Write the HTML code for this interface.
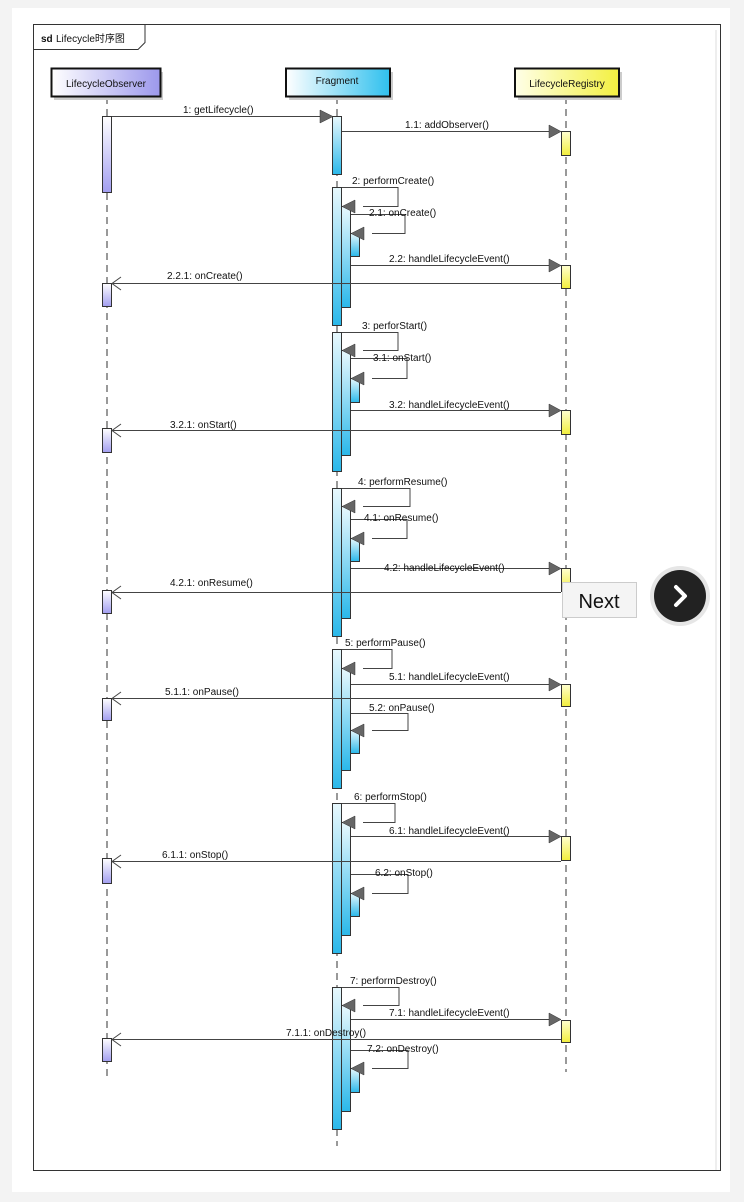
<!DOCTYPE html>
<html><head><meta charset="utf-8"><style>
body{margin:0;background:#f3f3f3;width:744px;height:1202px;overflow:hidden}
svg{display:block}
text{font-family:"Liberation Sans","Noto Sans CJK SC",sans-serif;font-size:10px;fill:#111}
</style></head><body>
<svg width="744" height="1202" viewBox="0 0 744 1202">
<defs>
<linearGradient id="gp" x1="0" y1="0" x2="1" y2="0"><stop offset="0" stop-color="#fff"/><stop offset="1" stop-color="#9c98ec"/></linearGradient>
<linearGradient id="gc" x1="0" y1="0" x2="1" y2="0"><stop offset="0" stop-color="#fff"/><stop offset="1" stop-color="#2fc0ee"/></linearGradient>
<linearGradient id="gy" x1="0" y1="0" x2="1" y2="0"><stop offset="0" stop-color="#ffffe8"/><stop offset="1" stop-color="#f3f040"/></linearGradient>
<linearGradient id="vp" x1="0" y1="0" x2="0" y2="1"><stop offset="0" stop-color="#fff"/><stop offset="1" stop-color="#a29ef0"/></linearGradient>
<linearGradient id="vc" x1="0" y1="0" x2="0" y2="1"><stop offset="0" stop-color="#e8f8fd"/><stop offset="1" stop-color="#2ab8ea"/></linearGradient>
<linearGradient id="vy" x1="0" y1="0" x2="0" y2="1"><stop offset="0" stop-color="#ffffd0"/><stop offset="1" stop-color="#f2ee3c"/></linearGradient>
</defs>
<rect x="12" y="8" width="718" height="1184" fill="#fff"/>
<rect x="33.5" y="24.5" width="687" height="1146" fill="#fff" stroke="#333"/>
<line x1="716" y1="30" x2="716" y2="1170" stroke="#ddd"/>
<path d="M33.5 49.5H138l7-7V24.5" fill="none" stroke="#333"/>
<text x="41" y="42" font-weight="bold" style="font-size:10px">sd</text><text x="56" y="42">Lifecycle时序图</text>

<!-- lifelines -->
<g stroke="#333" stroke-dasharray="7,5">
<line x1="107" y1="97" x2="107" y2="1077"/>
<line x1="337" y1="97" x2="337" y2="1146"/>
<line x1="566" y1="97" x2="566" y2="1072"/>
</g>
<!-- headers -->
<rect x="54" y="72" width="109" height="28" fill="#ccc"/>
<rect x="51.5" y="68.5" width="109" height="28" fill="url(#gp)" stroke="#111" stroke-width="2"/>
<text x="106" y="87" text-anchor="middle">LifecycleObserver</text>
<rect x="289" y="72" width="104" height="28" fill="#ccc"/>
<rect x="286" y="68.5" width="104" height="28" fill="url(#gc)" stroke="#111" stroke-width="2"/>
<text x="337" y="84" text-anchor="middle">Fragment</text>
<rect x="518" y="72" width="104" height="28" fill="#ccc"/>
<rect x="515" y="68.5" width="104" height="28" fill="url(#gy)" stroke="#111" stroke-width="2"/>
<text x="567" y="87" text-anchor="middle">LifecycleRegistry</text>

<g stroke="#333" stroke-width="1">
<!-- observer activations -->
<rect x="102.5" y="116.5" width="9" height="76" fill="url(#vp)"/>
<rect x="102.5" y="283.5" width="9" height="23" fill="url(#vp)"/>
<rect x="102.5" y="428.5" width="9" height="24" fill="url(#vp)"/>
<rect x="102.5" y="590.5" width="9" height="23" fill="url(#vp)"/>
<rect x="102.5" y="698.5" width="9" height="22" fill="url(#vp)"/>
<rect x="102.5" y="858.5" width="9" height="25" fill="url(#vp)"/>
<rect x="102.5" y="1038.5" width="9" height="23" fill="url(#vp)"/>
<!-- registry activations -->
<rect x="561.5" y="131.5" width="9" height="24" fill="url(#vy)"/>
<rect x="561.5" y="265.5" width="9" height="23" fill="url(#vy)"/>
<rect x="561.5" y="410.5" width="9" height="24" fill="url(#vy)"/>
<rect x="561.5" y="568.5" width="9" height="23" fill="url(#vy)"/>
<rect x="561.5" y="684.5" width="9" height="22" fill="url(#vy)"/>
<rect x="561.5" y="836.5" width="9" height="24" fill="url(#vy)"/>
<rect x="561.5" y="1020.5" width="9" height="22" fill="url(#vy)"/>
<!-- fragment activations -->
<rect x="332.5" y="116.5" width="9" height="58" fill="url(#vc)"/>
<rect x="332.5" y="187.5" width="9" height="138" fill="url(#vc)"/>
<rect x="341.5" y="206.5" width="9" height="101" fill="url(#vc)"/>
<rect x="350.5" y="233.5" width="9" height="23" fill="url(#vc)"/>
<rect x="332.5" y="332.5" width="9" height="139" fill="url(#vc)"/>
<rect x="341.5" y="350.5" width="9" height="105" fill="url(#vc)"/>
<rect x="350.5" y="378.5" width="9" height="24" fill="url(#vc)"/>
<rect x="332.5" y="488.5" width="9" height="148" fill="url(#vc)"/>
<rect x="341.5" y="506.5" width="9" height="112" fill="url(#vc)"/>
<rect x="350.5" y="538.5" width="9" height="23" fill="url(#vc)"/>
<rect x="332.5" y="649.5" width="9" height="139" fill="url(#vc)"/>
<rect x="341.5" y="668.5" width="9" height="102" fill="url(#vc)"/>
<rect x="350.5" y="730.5" width="9" height="23" fill="url(#vc)"/>
<rect x="332.5" y="803.5" width="9" height="150" fill="url(#vc)"/>
<rect x="341.5" y="822.5" width="9" height="113" fill="url(#vc)"/>
<rect x="350.5" y="893.5" width="9" height="23" fill="url(#vc)"/>
<rect x="332.5" y="987.5" width="9" height="142" fill="url(#vc)"/>
<rect x="341.5" y="1005.5" width="9" height="106" fill="url(#vc)"/>
<rect x="350.5" y="1068.5" width="9" height="24" fill="url(#vc)"/>
</g>

<!-- messages -->
<g stroke="#444" fill="none">
<path d="M112 116.5H321"/><path d="M342 131.5H549"/>
<path d="M342 187.5H398V206.5H363"/><path d="M351 214.5H405V233.5H372"/>
<path d="M351 265.5H549"/><path d="M561 283.5H112"/>
<path d="M342 332.5H398V350.5H363"/><path d="M351 358.5H407V378.5H372"/>
<path d="M351 410.5H549"/><path d="M561 430.5H112"/>
<path d="M342 488.5H410V506.5H363"/><path d="M351 519.5H407V538.5H372"/>
<path d="M351 568.5H549"/><path d="M561 592.5H112"/>
<path d="M342 649.5H392V668.5H363"/><path d="M351 684.5H549"/><path d="M561 698.5H112"/>
<path d="M351 713.5H408V730.5H372"/>
<path d="M342 803.5H395V822.5H363"/><path d="M351 836.5H549"/><path d="M561 861.5H112"/>
<path d="M351 874.5H408V893.5H372"/>
<path d="M342 987.5H399V1005.5H363"/><path d="M351 1019.5H549"/><path d="M561 1039.5H112"/>
<path d="M351 1050.5H408V1068.5H372"/>
<!-- open arrowheads -->
<path d="M121 277l-9 6.5 9 6.5"/><path d="M121 424l-9 6.5 9 6.5"/><path d="M121 586l-9 6.5 9 6.5"/>
<path d="M121 692l-9 6.5 9 6.5"/><path d="M121 855l-9 6.5 9 6.5"/><path d="M121 1033l-9 6.5 9 6.5"/>
</g>
<g fill="#666" stroke="#333" stroke-width=".5">
<polygon points="320,110 333,116.5 320,123"/>
<polygon points="549,125 561,131.5 549,138"/>
<polygon points="549,259 561,265.5 549,272"/>
<polygon points="549,404 561,410.5 549,417"/>
<polygon points="549,562 561,568.5 549,575"/>
<polygon points="549,678 561,684.5 549,691"/>
<polygon points="549,830 561,836.5 549,843"/>
<polygon points="549,1013 561,1019.5 549,1026"/>
<polygon points="355,200 342,206.5 355,213"/><polygon points="364,227 351,233.5 364,240"/>
<polygon points="355,344 342,350.5 355,357"/><polygon points="364,372 351,378.5 364,385"/>
<polygon points="355,500 342,506.5 355,513"/><polygon points="364,532 351,538.5 364,545"/>
<polygon points="355,662 342,668.5 355,675"/><polygon points="364,724 351,730.5 364,737"/>
<polygon points="355,816 342,822.5 355,829"/><polygon points="364,887 351,893.5 364,900"/>
<polygon points="355,999 342,1005.5 355,1012"/><polygon points="364,1062 351,1068.5 364,1075"/>
</g>

<!-- labels -->
<text x="183" y="113">1: getLifecycle()</text>
<text x="405" y="128">1.1: addObserver()</text>
<text x="352" y="184">2: performCreate()</text>
<text x="369" y="216">2.1: onCreate()</text>
<text x="389" y="262">2.2: handleLifecycleEvent()</text>
<text x="167" y="279">2.2.1: onCreate()</text>
<text x="362" y="329">3: perforStart()</text>
<text x="373" y="361">3.1: onStart()</text>
<text x="389" y="408">3.2: handleLifecycleEvent()</text>
<text x="170" y="428">3.2.1: onStart()</text>
<text x="358" y="485">4: performResume()</text>
<text x="364" y="521">4.1: onResume()</text>
<text x="384" y="571">4.2: handleLifecycleEvent()</text>
<text x="170" y="586">4.2.1: onResume()</text>
<text x="345" y="646">5: performPause()</text>
<text x="389" y="680">5.1: handleLifecycleEvent()</text>
<text x="165" y="695">5.1.1: onPause()</text>
<text x="369" y="711">5.2: onPause()</text>
<text x="354" y="800">6: performStop()</text>
<text x="389" y="834">6.1: handleLifecycleEvent()</text>
<text x="162" y="858">6.1.1: onStop()</text>
<text x="375" y="876">6.2: onStop()</text>
<text x="350" y="984">7: performDestroy()</text>
<text x="389" y="1016">7.1: handleLifecycleEvent()</text>
<text x="286" y="1036">7.1.1: onDestroy()</text>
<text x="367" y="1052">7.2: onDestroy()</text>

<!-- Next overlay -->
<rect x="562.5" y="582.5" width="74" height="35" fill="#f4f4f4" stroke="#ccc"/>
<text x="599" y="608" text-anchor="middle" style="font-size:20px">Next</text>
<circle cx="680" cy="596" r="30" fill="#e6e6e6"/>
<circle cx="680" cy="596" r="26" fill="#222"/>
<path d="M676 587l9 9-9 9" fill="none" stroke="#fff" stroke-width="4" stroke-linecap="round" stroke-linejoin="round"/>
</svg>
</body></html>
